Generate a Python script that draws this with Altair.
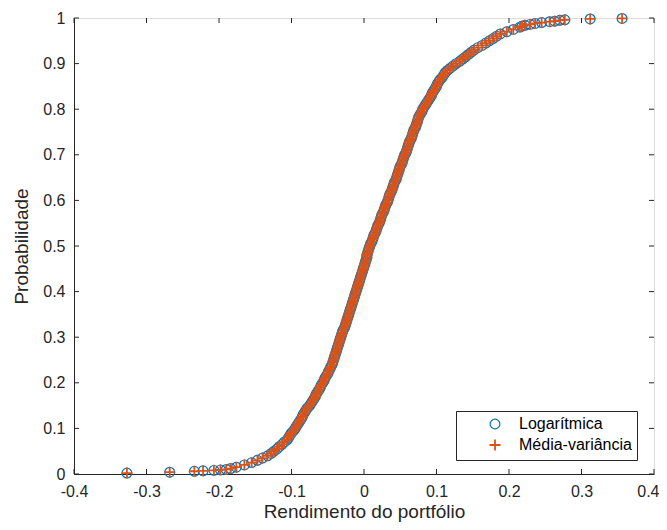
import altair as alt
import pandas as pd

series_names = ["Logarítmica", "Média-variância"]

p_vals = [
    0.002, 0.004, 0.006, 0.007, 0.008, 0.009, 0.010, 0.012,
    0.015, 0.020, 0.025, 0.030, 0.035, 0.040, 0.045, 0.050, 0.055, 0.060,
    0.065, 0.070, 0.075, 0.080, 0.085, 0.090, 0.095, 0.100, 0.105, 0.110,
    0.115, 0.120, 0.125, 0.130, 0.135, 0.140, 0.145, 0.150, 0.155, 0.160,
    0.165, 0.170, 0.175, 0.180, 0.185, 0.190, 0.195, 0.200, 0.205, 0.210,
    0.215, 0.220, 0.225, 0.230, 0.235, 0.240, 0.245, 0.250, 0.255, 0.260,
    0.265, 0.270, 0.275, 0.280, 0.285, 0.290, 0.295, 0.300, 0.305, 0.310,
    0.315, 0.320, 0.325, 0.330, 0.335, 0.340, 0.345, 0.350, 0.355, 0.360,
    0.365, 0.370, 0.375, 0.380, 0.385, 0.390, 0.395, 0.400, 0.405, 0.410,
    0.415, 0.420, 0.425, 0.430, 0.435, 0.440, 0.445, 0.450, 0.455, 0.460,
    0.465, 0.470, 0.475, 0.480, 0.485, 0.490, 0.495, 0.500, 0.505, 0.510,
    0.515, 0.520, 0.525, 0.530, 0.535, 0.540, 0.545, 0.550, 0.555, 0.560,
    0.565, 0.570, 0.575, 0.580, 0.585, 0.590, 0.595, 0.600, 0.605, 0.610,
    0.615, 0.620, 0.625, 0.630, 0.635, 0.640, 0.645, 0.650, 0.655, 0.660,
    0.665, 0.670, 0.675, 0.680, 0.685, 0.690, 0.695, 0.700, 0.705, 0.710,
    0.715, 0.720, 0.725, 0.730, 0.735, 0.740, 0.745, 0.750, 0.755, 0.760,
    0.765, 0.770, 0.775, 0.780, 0.785, 0.790, 0.795, 0.800, 0.805, 0.810,
    0.815, 0.820, 0.825, 0.830, 0.835, 0.840, 0.845, 0.850, 0.855, 0.860,
    0.865, 0.870, 0.875, 0.880, 0.885, 0.890, 0.895, 0.900, 0.905, 0.910,
    0.915, 0.920, 0.925, 0.930, 0.935, 0.940, 0.945, 0.950, 0.955, 0.960,
    0.965, 0.970, 0.975, 0.980,
    0.982, 0.984, 0.986, 0.988, 0.990, 0.992, 0.993, 0.995, 0.996, 0.998, 0.999,
]

x_log = [
    -0.327, -0.268, -0.234, -0.222, -0.207, -0.198, -0.190, -0.184,
    -0.176, -0.165, -0.155, -0.147, -0.140, -0.133, -0.128, -0.124, -0.120, -0.117,
    -0.113, -0.110, -0.106, -0.104, -0.102, -0.100, -0.097, -0.095, -0.093, -0.091,
    -0.089, -0.087, -0.085, -0.084, -0.082, -0.080, -0.078, -0.075, -0.073, -0.071,
    -0.069, -0.067, -0.066, -0.064, -0.062, -0.060, -0.059, -0.057, -0.055, -0.054,
    -0.052, -0.050, -0.049, -0.047, -0.046, -0.044, -0.043, -0.042, -0.041, -0.040,
    -0.039, -0.038, -0.037, -0.036, -0.035, -0.034, -0.033, -0.032, -0.031, -0.030,
    -0.029, -0.027, -0.026, -0.025, -0.024, -0.023, -0.022, -0.021, -0.020, -0.019,
    -0.018, -0.017, -0.016, -0.015, -0.014, -0.013, -0.012, -0.011, -0.010, -0.009,
    -0.008, -0.007, -0.006, -0.005, -0.004, -0.003, -0.002, -0.001, 0.000, 0.001,
    0.002, 0.003, 0.004, 0.004, 0.005, 0.006, 0.007, 0.008, 0.009, 0.011,
    0.012, 0.013, 0.014, 0.016, 0.017, 0.018, 0.019, 0.021, 0.022, 0.023,
    0.024, 0.025, 0.027, 0.028, 0.029, 0.030, 0.032, 0.033, 0.034, 0.035,
    0.036, 0.038, 0.039, 0.040, 0.041, 0.042, 0.044, 0.045, 0.046, 0.047,
    0.048, 0.049, 0.050, 0.052, 0.053, 0.054, 0.055, 0.056, 0.058, 0.059,
    0.060, 0.061, 0.062, 0.063, 0.065, 0.066, 0.067, 0.068, 0.069, 0.071,
    0.072, 0.073, 0.074, 0.075, 0.076, 0.078, 0.080, 0.081, 0.083, 0.085,
    0.087, 0.089, 0.091, 0.093, 0.094, 0.096, 0.098, 0.100, 0.101, 0.103,
    0.105, 0.108, 0.110, 0.112, 0.115, 0.119, 0.123, 0.127, 0.132, 0.136,
    0.140, 0.144, 0.148, 0.152, 0.157, 0.163, 0.168, 0.173, 0.178, 0.183,
    0.188, 0.197, 0.206, 0.215,
    0.218, 0.222, 0.229, 0.236, 0.245, 0.256, 0.263, 0.270, 0.277, 0.312, 0.356,
]

# The two series are indistinguishable in the picture
x_mv = list(x_log)

x_ticks = [-0.4, -0.3, -0.2, -0.1, 0.0, 0.1, 0.2, 0.3, 0.4]
y_ticks = [0.0, 0.1, 0.2, 0.3, 0.4, 0.5, 0.6, 0.7, 0.8, 0.9, 1.0]

W, H = 580, 456
FONT = "Liberation Sans"
AX = "#262626"

n = len(p_vals)
df = pd.DataFrame({
    "x": x_log + x_mv,
    "p": p_vals + p_vals,
    "serie": [series_names[0]] * n + [series_names[1]] * n,
})

x_scale = alt.Scale(domain=[-0.4, 0.4], nice=False, zero=False)
y_scale = alt.Scale(domain=[0, 1], nice=False, zero=False)
label_expr = "replace(format(datum.value, '~g'), '\u2212', '-')"

x_axis = alt.Axis(
    values=x_ticks, title="Rendimento do portfólio", labelExpr=label_expr,
    ticks=False, grid=False, domainColor=AX, domainWidth=1,
    labelFont=FONT, labelFontSize=16, labelColor=AX, labelPadding=9,
    labelFlush=False, labelOverlap=False,
    labelAlign={"condition": {"test": "datum.value > 0.35", "value": "right"}, "value": "center"},
    labelOffset={"condition": {"test": "datum.value > 0.35", "value": 5}, "value": 0},
    titleFont=FONT, titleFontSize=19, titleFontWeight="normal",
    titleColor=AX, titlePadding=3)
y_axis = alt.Axis(
    values=y_ticks, title="Probabilidade", labelExpr=label_expr,
    ticks=False, grid=False, domainColor=AX, domainWidth=1,
    labelFont=FONT, labelFontSize=16, labelColor=AX, labelPadding=9,
    labelFlush=False, labelOverlap=False,
    titleFont=FONT, titleFontSize=19, titleFontWeight="normal",
    titleColor=AX, titlePadding=11)

plus_path = "M-1,0L1,0M0,-1L0,1"

legend_kw = dict(
    title=None, orient="none", legendX=382, legendY=393,
    strokeColor=AX, fillColor="white", padding=5,
    symbolOffset=26, labelOffset=16, labelFont=FONT, labelFontSize=16,
    labelColor="#000000", symbolSize=55, symbolStrokeWidth=1,
    rowPadding=3, labelLimit=300,
)

points = alt.Chart(df).mark_point(filled=False, opacity=1).encode(
    x=alt.X("x:Q", scale=x_scale, axis=x_axis),
    y=alt.Y("p:Q", scale=y_scale, axis=y_axis),
    color=alt.Color("serie:N", scale=alt.Scale(domain=series_names, range=["#0072BD", "#D95319"]),
                    legend=alt.Legend(**legend_kw)),
    shape=alt.Shape("serie:N", scale=alt.Scale(domain=series_names, range=["circle", plus_path]),
                    legend=alt.Legend(**legend_kw)),
    size=alt.Size("serie:N", scale=alt.Scale(domain=series_names, range=[95, 121]), legend=None),
    strokeWidth=alt.StrokeWidth("serie:N", scale=alt.Scale(domain=series_names, range=[1.2, 1.8]),
                                legend=None),
)

xt = pd.DataFrame({"x": x_ticks})
yt = pd.DataFrame({"p": y_ticks})

tick_bottom = alt.Chart(xt).mark_rule(color=AX, strokeWidth=1).encode(
    x=alt.X("x:Q", scale=x_scale, axis=x_axis), y=alt.value(H), y2=alt.value(H - 5))
tick_top = alt.Chart(xt).mark_rule(color=AX, strokeWidth=1).encode(
    x=alt.X("x:Q", scale=x_scale, axis=x_axis), y=alt.value(0), y2=alt.value(5))
tick_left = alt.Chart(yt).mark_rule(color=AX, strokeWidth=1).encode(
    y=alt.Y("p:Q", scale=y_scale, axis=y_axis), x=alt.value(0), x2=alt.value(5))
tick_right = alt.Chart(yt).mark_rule(color=AX, strokeWidth=1).encode(
    y=alt.Y("p:Q", scale=y_scale, axis=y_axis), x=alt.value(W), x2=alt.value(W - 5))

chart = alt.layer(tick_bottom, tick_top, tick_left, tick_right, points).properties(
    width=W, height=H,
    autosize=alt.AutoSizeParams(type="none"),
    padding={"left": 66, "top": 10, "right": 5, "bottom": 48},
).configure_view(stroke=AX, strokeWidth=1).configure(background="white")

chart.save("out.html", embed_options={"renderer": "svg", "actions": False})
